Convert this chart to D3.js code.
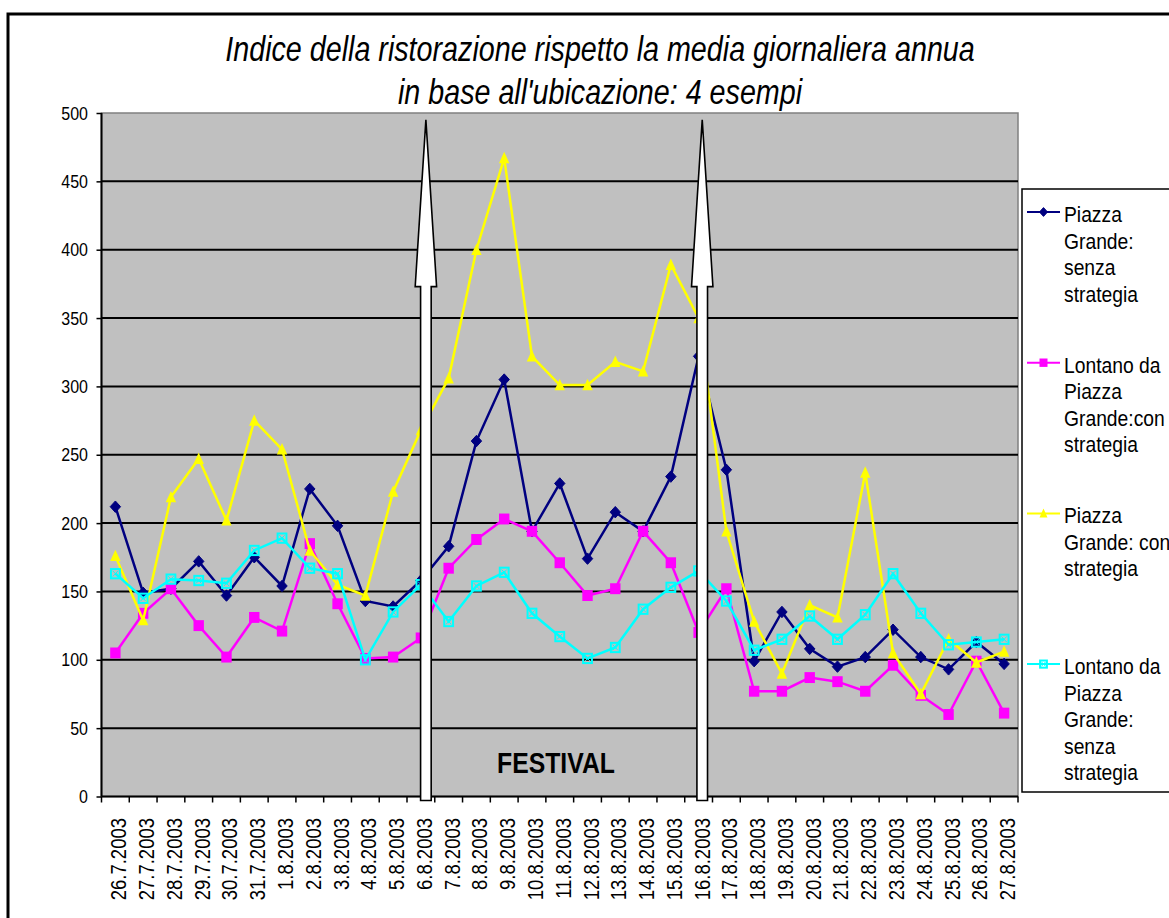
<!DOCTYPE html>
<html>
<head>
<meta charset="utf-8">
<script src="https://cdn.jsdelivr.net/npm/d3@7"></script>
<style>
  html, body { margin: 0; padding: 0; background: #fff; }
  svg { display: block; font-family: "Liberation Sans", Arial, sans-serif; }
</style>
</head>
<body>
<div id="chart"></div>
<script>
// categories
const dates = [
  "26.7.2003", "27.7.2003", "28.7.2003", "29.7.2003", "30.7.2003", "31.7.2003",
  "1.8.2003", "2.8.2003", "3.8.2003", "4.8.2003", "5.8.2003", "6.8.2003",
  "7.8.2003", "8.8.2003", "9.8.2003", "10.8.2003", "11.8.2003", "12.8.2003",
  "13.8.2003", "14.8.2003", "15.8.2003", "16.8.2003", "17.8.2003", "18.8.2003",
  "19.8.2003", "20.8.2003", "21.8.2003", "22.8.2003", "23.8.2003", "24.8.2003",
  "25.8.2003", "26.8.2003", "27.8.2003"
]

// series values
const piazzaSenza = [212, 149, 152, 172, 147, 175, 154, 225, 198, 143, 139, 158,
  183, 260, 305, 194, 229, 174, 208, 194, 234, 322, 239, 99, 135, 108, 95, 102,
  122, 102, 93, 113, 97]
const lontanoCon = [105, 134, 152, 125, 102, 131, 121, 185, 141, 101, 102, 116,
  167, 188, 203, 194, 171, 147, 152, 194, 171, 120, 152, 77, 77, 87, 84, 77,
  96, 74, 60, 99, 61]
const piazzaCon = [176, 129, 219, 247, 202, 275, 254, 180, 155, 147, 223, 268,
  306, 400, 467, 322, 301, 301, 318, 311, 389, 350, 194, 128, 90, 140, 131, 237,
  105, 75, 115, 98, 106]
const lontanoSenza = [163, 145, 159, 158, 156, 180, 189, 167, 163, 100, 135, 155,
  128, 154, 164, 134, 117, 101, 109, 137, 153, 165, 143, 107, 115, 132, 115, 133,
  163, 134, 111, 113, 115]

const yTicks = [0, 50, 100, 150, 200, 250, 300, 350, 400, 450, 500]

const titleLines = [
  "Indice della ristorazione rispetto la media giornaliera annua",
  "in base all'ubicazione: 4 esempi"
]

const series = [
  { name: ["Piazza", "Grande:", "senza", "strategia"], values: piazzaSenza, color: "#000080", marker: "diamond" },
  { name: ["Lontano da", "Piazza", "Grande:con", "strategia"], values: lontanoCon, color: "#FF00FF", marker: "square" },
  { name: ["Piazza", "Grande: con", "strategia"], values: piazzaCon, color: "#FFFF00", marker: "triangle" },
  { name: ["Lontano da", "Piazza", "Grande:", "senza", "strategia"], values: lontanoSenza, color: "#00FFFF", marker: "xsquare" }
]

const W = 1169, H = 918
const plot = { left: 101.5, right: 1018, top: 113, bottom: 796.5 }

const svg = d3.select("#chart").append("svg")
  .attr("width", W)
  .attr("height", H)

// outer frame
svg.append("rect")
  .attr("x", 8).attr("y", 14)
  .attr("width", 1200).attr("height", 1000)
  .attr("fill", "none").attr("stroke", "#000").attr("stroke-width", 3)

// scales
let x = d3.scaleBand().domain(dates).range([plot.left, plot.right]).padding(0)
let y = d3.scaleLinear().domain([0, 500]).range([plot.bottom, plot.top])
const cx = d => x(d) + x.bandwidth() / 2

// text helper: glyphs in the reference are drawn a bit taller than wide
const stretchText = (sel, tx, ty, sy, rot) => sel
  .attr("transform", `translate(${tx},${ty})` + (rot ? ` rotate(${rot})` : "") + ` scale(1,${sy})`)

// title
titleLines.forEach((t, i) => {
  svg.append("text")
    .call(stretchText, 600, i === 0 ? 61 : 104, 1.22)
    .attr("text-anchor", "middle")
    .attr("font-style", "italic")
    .attr("font-size", 28.7)
    .text(t)
})

// plot background
svg.append("rect")
  .attr("x", plot.left).attr("y", plot.top)
  .attr("width", plot.right - plot.left).attr("height", plot.bottom - plot.top)
  .attr("fill", "#C0C0C0")
  .attr("stroke", "#808080").attr("stroke-width", 1.5)

// gridlines
svg.append("g")
  .selectAll("line")
  .data(yTicks.filter(d => d > 0 && d < 500))
  .enter().append("line")
  .attr("x1", plot.left).attr("x2", plot.right)
  .attr("y1", d => y(d)).attr("y2", d => y(d))
  .attr("stroke", "#000").attr("stroke-width", 2)

// y axis
let yAxis = svg.append("g")
  .attr("transform", `translate(${plot.left},0)`)
  .call(d3.axisLeft(y).tickValues(yTicks).tickSize(5).tickFormat(""))
yAxis.select(".domain").attr("stroke-width", 2).attr("d", `M0,${plot.top}V${plot.bottom}`)
yAxis.selectAll(".tick line").attr("stroke-width", 1.5)
svg.append("g").selectAll("text")
  .data(yTicks)
  .enter().append("text")
  .each(function(d) { stretchText(d3.select(this), 88, y(d) + 6.5, 1.16) })
  .attr("text-anchor", "end")
  .attr("font-size", 16)
  .text(d => d)

// x axis: ticks between categories
let xAxis = svg.append("g")
  .attr("transform", `translate(0,${plot.bottom})`)
xAxis.append("line")
  .attr("x1", plot.left).attr("x2", plot.right)
  .attr("stroke", "#000").attr("stroke-width", 2)
xAxis.selectAll(".xt")
  .data(dates.concat(["end"]))
  .enter().append("line")
  .attr("class", "xt")
  .attr("x1", (d, i) => i < dates.length ? x(d) : plot.right)
  .attr("x2", (d, i) => i < dates.length ? x(d) : plot.right)
  .attr("y1", 0).attr("y2", 6)
  .attr("stroke", "#000").attr("stroke-width", 1.5)
svg.append("g").selectAll("text")
  .data(dates)
  .enter().append("text")
  .each(function(d) { stretchText(d3.select(this), cx(d) + 11, 818, 1.18, -90) })
  .attr("text-anchor", "end")
  .attr("font-size", 18.5)
  .text(d => d)

// markers
const drawMarker = (g, type, color, px, py, s) => {
  if (type === "diamond") {
    g.append("path")
      .attr("d", `M${px},${py - s * 1.1}L${px + s},${py}L${px},${py + s * 1.1}L${px - s},${py}Z`)
      .attr("fill", color).attr("stroke", color).attr("stroke-width", 1)
  } else if (type === "square") {
    g.append("rect")
      .attr("x", px - s).attr("y", py - s * 1.05)
      .attr("width", 2 * s).attr("height", 2.1 * s)
      .attr("fill", color)
  } else if (type === "triangle") {
    g.append("path")
      .attr("d", `M${px},${py - s * 1.2}L${px + s},${py + s}L${px - s},${py + s}Z`)
      .attr("fill", color)
  } else {
    let s2 = s * 0.85
    g.append("rect")
      .attr("x", px - s2).attr("y", py - s2 * 1.05)
      .attr("width", 2 * s2).attr("height", 2.1 * s2)
      .attr("fill", "none").attr("stroke", color).attr("stroke-width", 2)
    g.append("path")
      .attr("d", `M${px - s2 * 0.6},${py - s2 * 0.65}L${px + s2 * 0.6},${py + s2 * 0.65}M${px + s2 * 0.6},${py - s2 * 0.65}L${px - s2 * 0.6},${py + s2 * 0.65}`)
      .attr("fill", "none").attr("stroke", color).attr("stroke-width", 1)
  }
}

let line = d3.line()
  .x((d, i) => cx(dates[i]))
  .y(d => y(d))

series.forEach(s => {
  let g = svg.append("g")
  g.append("path")
    .datum(s.values)
    .attr("d", line)
    .attr("fill", "none")
    .attr("stroke", s.color)
    .attr("stroke-width", 2.5)
  s.values.forEach((v, i) => drawMarker(g, s.marker, s.color, cx(dates[i]), y(v), 5.2))
})

// festival arrows (block arrows on top of the lines)
const arrowAt = [
  { date: "6.8.2003", shift: 0.18 },
  { date: "16.8.2003", shift: 0.13 }
]
arrowAt.forEach(a => {
  let ax = cx(a.date) + a.shift * x.bandwidth()
  let tip = y(495), base = y(373), bottom = plot.bottom + 4
  let hw = 10.7, sw = 5.3
  svg.append("path")
    .attr("d", `M${ax},${tip}L${ax + hw},${base}L${ax + sw},${base}L${ax + sw},${bottom}` +
      `L${ax - sw},${bottom}L${ax - sw},${base}L${ax - hw},${base}Z`)
    .attr("fill", "#fff")
    .attr("stroke", "#000")
    .attr("stroke-width", 1.6)
    .attr("stroke-linejoin", "miter")
})

svg.append("text")
  .call(stretchText, 497, 773, 1.18)
  .attr("font-weight", "bold")
  .attr("font-size", 24.8)
  .text("FESTIVAL")

// legend
let legend = svg.append("g")
legend.append("rect")
  .attr("x", 1022).attr("y", 189)
  .attr("width", 200).attr("height", 603)
  .attr("fill", "#fff").attr("stroke", "#000").attr("stroke-width", 1.5)

series.forEach((s, k) => {
  let ly = 212 + 150.7 * k
  let g = legend.append("g")
  g.append("line")
    .attr("x1", 1027).attr("x2", 1060)
    .attr("y1", ly).attr("y2", ly)
    .attr("stroke", s.color).attr("stroke-width", 2)
  drawMarker(g, s.marker, s.color, 1043.5, ly, 4)
  s.name.forEach((t, j) => {
    g.append("text")
      .call(stretchText, 1064, ly + 10 + j * 26.5, 1.15)
      .attr("font-size", 19.3)
      .text(t)
  })
})
</script>
</body>
</html>
